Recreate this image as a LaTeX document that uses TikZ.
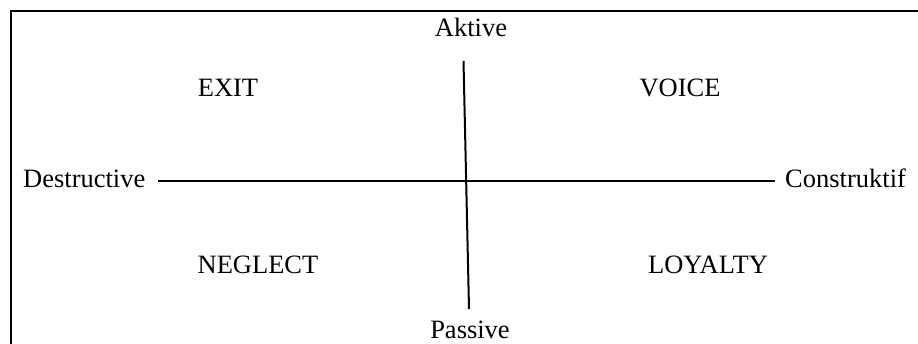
\documentclass[tikz,border=0pt]{standalone}
\usepackage{fontspec}
\setmainfont{Liberation Serif}
\begin{document}
\begin{tikzpicture}[x=1pt,y=-1pt,
  lbl/.style={anchor=base,inner sep=0pt,font=\fontsize{26.5}{30}\selectfont},
  axis/.style={line width=2pt},
  frame/.style={line width=2.4pt}]
\useasboundingbox (0,0) rectangle (918,344);
\draw[frame] (11,350) -- (11,11) -- (925,11);
\node[lbl] (aktive) at (471,37) {Aktive};
\node[lbl] (passive) at (470,339) {Passive};
\node[lbl,anchor=base west] (destr) at (23,188) {Destructive};
\node[lbl,anchor=base west] (constr) at (785,188) {Construktif};
\node[lbl] (exit) at (228,97) {EXIT};
\node[lbl] (voice) at (680,97) {VOICE};
\node[lbl] (neglect) at (258,274) {NEGLECT};
\node[lbl] (loyalty) at (708,274) {LOYALTY};
\coordinate (vt) at (463.5,61);
\coordinate (vb) at (469,309);
\coordinate (hl) at (158,181);
\coordinate (hr) at (775,181);
\draw[axis] (vt) -- (vb);
\draw[axis] (hl) -- (hr);
\end{tikzpicture}
\end{document}
